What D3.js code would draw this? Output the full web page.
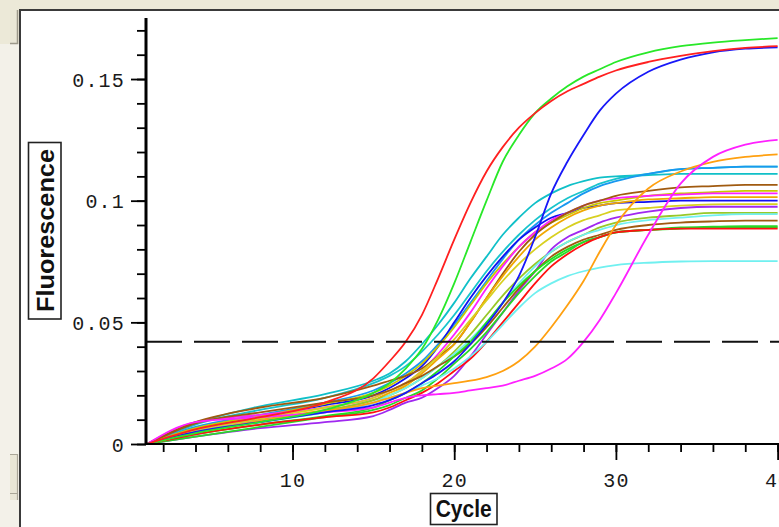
<!DOCTYPE html>
<html><head><meta charset="utf-8">
<script src="https://cdn.jsdelivr.net/npm/d3@7"></script>
<style>html,body{margin:0;padding:0;background:#fff;overflow:hidden}</style>
</head><body><svg id="c" width="779" height="527"></svg>
<script>
// ---- data ----
const cycles = [1,4,8,12,15,16,17,18,19,20,21,22,23,24,25,26,27,28,29,30,32,34,36,38,40];

const teal2      = [0,0.0085,0.0155,0.0205,0.026,0.029,0.034,0.041,0.049,0.058,0.068,0.077,0.086,0.093,0.099,0.103,0.106,0.108,0.1095,0.110,0.1105,0.111,0.111,0.111,0.111];
const teal1      = [0,0.008,0.014,0.019,0.025,0.028,0.032,0.038,0.045,0.053,0.062,0.071,0.079,0.086,0.092,0.097,0.101,0.104,0.107,0.109,0.111,0.113,0.1135,0.114,0.114];
const dodger     = [0,0.007,0.012,0.017,0.022,0.025,0.029,0.034,0.041,0.049,0.058,0.067,0.076,0.084,0.090,0.095,0.099,0.103,0.106,0.108,0.111,0.113,0.1135,0.114,0.114];
const blue2      = [0,0.006,0.011,0.016,0.020,0.023,0.027,0.032,0.040,0.050,0.060,0.069,0.077,0.084,0.089,0.093,0.095,0.097,0.098,0.099,0.0995,0.100,0.100,0.100,0.100];
const olive1     = [0,0.0065,0.0115,0.0165,0.021,0.024,0.028,0.033,0.040,0.048,0.057,0.066,0.074,0.081,0.087,0.091,0.094,0.097,0.099,0.100,0.102,0.103,0.1035,0.104,0.104];
const magenta2   = [0,0.009,0.012,0.015,0.019,0.022,0.025,0.030,0.037,0.045,0.054,0.064,0.073,0.081,0.087,0.092,0.095,0.098,0.100,0.101,0.102,0.1025,0.103,0.103,0.103];
const brown1     = [0,0.009,0.015,0.019,0.024,0.026,0.028,0.031,0.036,0.041,0.050,0.060,0.070,0.079,0.086,0.091,0.095,0.098,0.100,0.102,0.104,0.1055,0.106,0.1065,0.1065];
const orange2    = [0,0.006,0.010,0.014,0.018,0.021,0.024,0.029,0.035,0.041,0.050,0.060,0.069,0.077,0.084,0.089,0.093,0.096,0.098,0.099,0.1005,0.101,0.1015,0.1015,0.1015];
const yellow2    = [0,0.0055,0.0105,0.015,0.019,0.022,0.025,0.030,0.036,0.043,0.051,0.059,0.067,0.074,0.080,0.085,0.089,0.092,0.094,0.096,0.097,0.098,0.0985,0.0986,0.0986];
const yellowGreen= [0,0.005,0.0095,0.0135,0.018,0.020,0.023,0.027,0.032,0.038,0.045,0.053,0.061,0.068,0.074,0.079,0.083,0.086,0.089,0.091,0.093,0.094,0.095,0.095,0.095];
const purple1    = [0,0.003,0.0065,0.009,0.0115,0.014,0.017,0.019,0.023,0.028,0.036,0.045,0.054,0.063,0.071,0.080,0.085,0.088,0.091,0.093,0.0955,0.097,0.0975,0.0975,0.0975];
const lightCyan1 = [0,0.005,0.009,0.013,0.017,0.020,0.023,0.027,0.032,0.037,0.043,0.050,0.058,0.066,0.073,0.079,0.083,0.086,0.088,0.090,0.092,0.093,0.094,0.0945,0.0945];
const brown2     = [0,0.0085,0.013,0.017,0.020,0.022,0.025,0.028,0.032,0.036,0.041,0.048,0.056,0.064,0.071,0.077,0.081,0.084,0.086,0.088,0.090,0.091,0.0915,0.0918,0.0918];
const green2     = [0,0.004,0.008,0.0115,0.015,0.018,0.021,0.025,0.030,0.036,0.042,0.050,0.058,0.065,0.071,0.076,0.080,0.083,0.085,0.087,0.088,0.0885,0.089,0.089,0.089];
const green3     = [0,0.003,0.007,0.011,0.014,0.016,0.019,0.022,0.027,0.033,0.039,0.046,0.054,0.062,0.069,0.075,0.079,0.083,0.085,0.087,0.088,0.089,0.0893,0.0895,0.0895];
const red2       = [0,0.004,0.008,0.011,0.013,0.015,0.018,0.021,0.025,0.030,0.035,0.042,0.050,0.058,0.066,0.073,0.078,0.082,0.085,0.087,0.088,0.0885,0.0885,0.0885,0.0885];
const lightCyanLow=[0,0.005,0.0095,0.013,0.017,0.019,0.021,0.024,0.027,0.031,0.036,0.042,0.049,0.056,0.062,0.066,0.069,0.071,0.0725,0.0735,0.0745,0.075,0.0752,0.0752,0.0752];
const orangeLate = [0,0.005,0.0095,0.0135,0.017,0.019,0.021,0.023,0.024,0.025,0.026,0.0275,0.030,0.034,0.040,0.048,0.057,0.067,0.079,0.090,0.105,0.112,0.116,0.118,0.119];
const magentaLate= [0,0.009,0.011,0.013,0.015,0.017,0.019,0.020,0.0205,0.021,0.022,0.023,0.024,0.026,0.028,0.031,0.035,0.042,0.051,0.062,0.086,0.107,0.118,0.123,0.125];
const blueLate   = [0,0.005,0.009,0.013,0.016,0.018,0.021,0.025,0.029,0.034,0.041,0.049,0.058,0.069,0.085,0.103,0.116,0.127,0.137,0.144,0.153,0.158,0.161,0.1625,0.163];
const greenEarly = [0,0.0045,0.009,0.014,0.021,0.025,0.031,0.039,0.051,0.066,0.083,0.100,0.116,0.127,0.136,0.142,0.147,0.151,0.154,0.157,0.161,0.1635,0.165,0.166,0.1668];
const redEarly   = [0,0.006,0.011,0.017,0.027,0.034,0.042,0.053,0.068,0.084,0.099,0.112,0.122,0.130,0.136,0.141,0.145,0.148,0.151,0.1535,0.157,0.1595,0.1615,0.1628,0.1635];

const seriesValues = [teal2, teal1, dodger, blue2, olive1, magenta2, brown1, orange2, yellow2, yellowGreen,
  purple1, lightCyan1, brown2, green2, green3, red2, lightCyanLow, orangeLate, magentaLate, blueLate, greenEarly, redEarly];
const seriesColors = ["#10c0c8","#18c4cc","#1898f0","#1010f0","#c8c800","#ff20ff","#a05a10","#f0a800","#d8d020","#98c828",
  "#a028f0","#70f0f0","#a05a10","#20e020","#28d828","#ff1010","#70f0f0","#ffa010","#ff20ff","#1818f8","#28e828","#ff2020"];

const xTicksMinor = d3.range(2, 41, 2);
const xTicksMajor = [10, 20, 30, 40];
const yTicksMinor = d3.range(0, 18).map(i => i / 100);
const yTicksMajor = [0, 0.05, 0.1, 0.15];
const yTickLabels = ["0", "0.05", "0.1", "0.15"];
const threshold = 0.042;
const xTitle = "Cycle";
const yTitle = "Fluorescence";

// ---- drawing ----
const svg = d3.select("#c");
const W = 779, H = 527;

// window chrome
svg.append("rect").attr("x",0).attr("y",0).attr("width",W).attr("height",H).attr("fill","#ece9d8");
svg.append("rect").attr("x",0).attr("y",44).attr("width",19).attr("height",H-44).attr("fill","#f3f1e9");
svg.append("rect").attr("x",10).attr("y",10).attr("width",7).attr("height",33).attr("fill","#e9e6d6");
svg.append("path").attr("d","M17.5,10 V43.5 H10").attr("fill","none").attr("stroke","#9c988a").attr("stroke-width",1.5);
svg.append("rect").attr("x",10).attr("y",454).attr("width",7).attr("height",46).attr("fill","#e9e6d6");
svg.append("path").attr("d","M10,454.5 H17.5 V500").attr("fill","none").attr("stroke","#aaa698").attr("stroke-width",1.2);
svg.append("path").attr("d","M10,493.5 H17").attr("fill","none").attr("stroke","#aaa698").attr("stroke-width",1);
svg.append("rect").attr("x",21).attr("y",11).attr("width",W-21).attr("height",H-11).attr("fill","#ffffff");
svg.append("path").attr("d",`M20,${H} V10 H${W}`).attr("fill","none").attr("stroke","#3a3a3a").attr("stroke-width",2);

const x = d3.scaleLinear().domain([1, 40]).range([147, 777.6]);
const y = d3.scaleLinear().domain([0, 0.175]).range([444, 18.2]);

const monoFont = "'Liberation Mono', 'DejaVu Sans Mono', monospace";

// curves
const line = d3.line().x((d,i) => x(cycles[i])).y(d => y(d)).curve(d3.curveMonotoneX);
const gLines = svg.append("g");
seriesValues.forEach((vals, k) => {
  gLines.append("path").attr("d", line(vals)).attr("fill","none")
    .attr("stroke", seriesColors[k]).attr("stroke-width", 1.8).attr("stroke-linejoin","round");
});

// threshold
svg.append("line").attr("x1", 146).attr("x2", W).attr("y1", y(threshold)).attr("y2", y(threshold))
  .attr("stroke","#111").attr("stroke-width",2).attr("stroke-dasharray","36 12");

// y axis minor
const yMinor = svg.append("g").attr("transform","translate(146,0)")
  .call(d3.axisLeft(y).tickValues(yTicksMinor).tickSize(9).tickFormat(""));
yMinor.select(".domain").remove();
yMinor.selectAll(".tick line").attr("stroke","#000").attr("stroke-width",1.8);
// y axis major
const yMajor = svg.append("g").attr("transform","translate(146,0)")
  .call(d3.axisLeft(y).tickValues(yTicksMajor).tickSize(15).tickPadding(6)
    .tickFormat((d,i) => yTickLabels[i]));
yMajor.select(".domain").remove();
yMajor.selectAll(".tick line").attr("stroke","#000").attr("stroke-width",1.8);
yMajor.selectAll(".tick text").attr("font-family", monoFont).attr("font-size", 20)
  .attr("letter-spacing","1.2px").attr("fill","#1a1a1a").attr("dy","0.36em");

// x axis minor
const xMinor = svg.append("g").attr("transform","translate(0,444)")
  .call(d3.axisBottom(x).tickValues(xTicksMinor).tickSize(8).tickFormat(""));
xMinor.select(".domain").remove();
xMinor.selectAll(".tick line").attr("stroke","#000").attr("stroke-width",1.8);
const xMajor = svg.append("g").attr("transform","translate(0,444)")
  .call(d3.axisBottom(x).tickValues(xTicksMajor).tickSize(16).tickPadding(13).tickFormat(d3.format("d")));
xMajor.select(".domain").remove();
xMajor.selectAll(".tick line").attr("stroke","#000").attr("stroke-width",1.8);
xMajor.selectAll(".tick text").attr("font-family", monoFont).attr("font-size", 20)
  .attr("letter-spacing","1.2px").attr("fill","#1a1a1a");

// axis lines
svg.append("line").attr("x1",146).attr("x2",W).attr("y1",444).attr("y2",444).attr("stroke","#000").attr("stroke-width",2.2);
svg.append("line").attr("x1",146).attr("x2",146).attr("y1",18).attr("y2",445).attr("stroke","#000").attr("stroke-width",3);

// titles
svg.append("rect").attr("x",430.5).attr("y",493.5).attr("width",66.5).attr("height",31)
  .attr("fill","#fff").attr("stroke","#222").attr("stroke-width",1.6);
svg.append("text").attr("x",463.7).attr("y",517).attr("text-anchor","middle")
  .attr("font-family","'Liberation Sans', Arial, sans-serif").attr("font-weight","bold").attr("font-size",23)
  .attr("textLength",56).attr("lengthAdjust","spacingAndGlyphs").attr("fill","#111").text(xTitle);

svg.append("rect").attr("x",28.5).attr("y",142.5).attr("width",32.5).attr("height",176.5)
  .attr("fill","#fff").attr("stroke","#222").attr("stroke-width",1.6);
svg.append("text").attr("transform","translate(53.5,230.5) rotate(-90)").attr("text-anchor","middle")
  .attr("font-family","'Liberation Sans', Arial, sans-serif").attr("font-weight","bold").attr("font-size",23)
  .attr("textLength",163).attr("lengthAdjust","spacingAndGlyphs").attr("fill","#111").text(yTitle);
</script>
</body></html>
